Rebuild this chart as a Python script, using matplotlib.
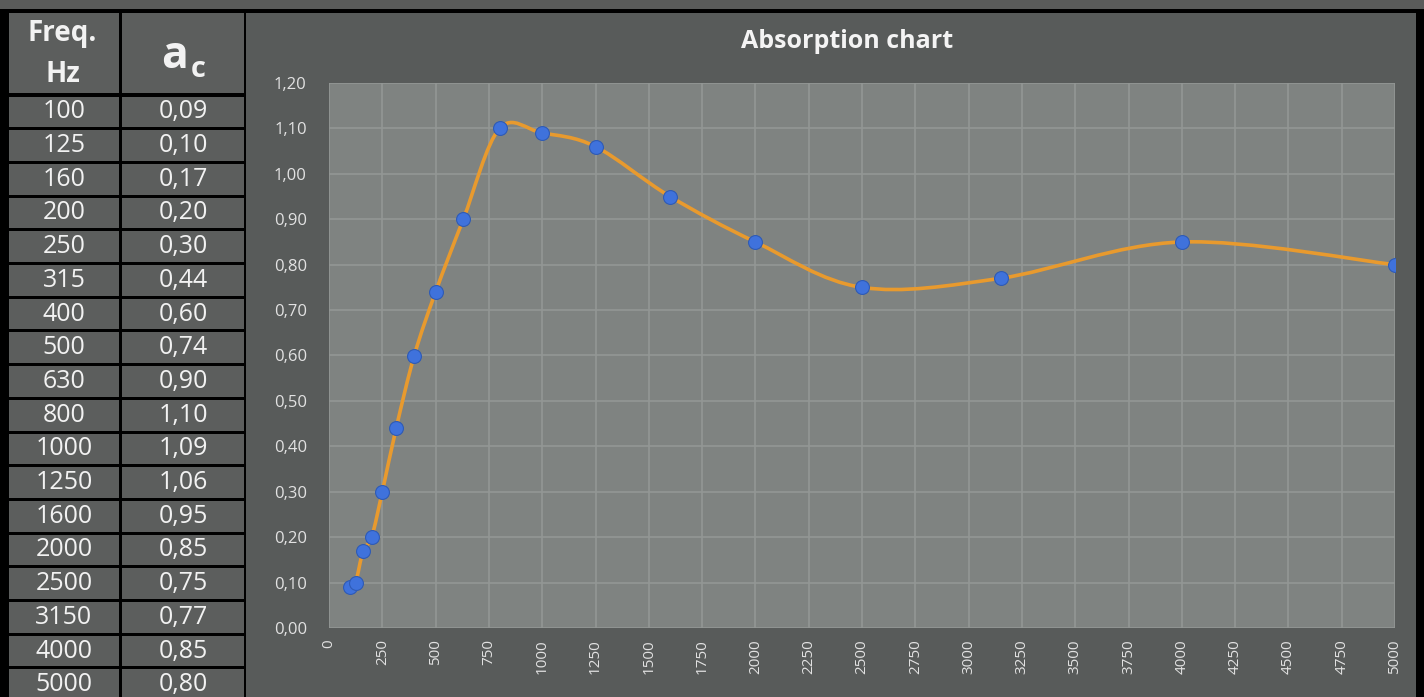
import matplotlib
matplotlib.use('Agg')
import matplotlib.pyplot as plt
import numpy as np
from matplotlib.patches import Rectangle, PathPatch
from matplotlib.path import Path
from matplotlib.ticker import FuncFormatter, MultipleLocator

freqs = [100, 125, 160, 200, 250, 315, 400, 500, 630, 800, 1000, 1250,
         1600, 2000, 2500, 3150, 4000, 5000]
alphas = [0.09, 0.10, 0.17, 0.20, 0.30, 0.44, 0.60, 0.74, 0.90, 1.10, 1.09, 1.06,
          0.95, 0.85, 0.75, 0.77, 0.85, 0.80]
title = 'Absorption chart'

W, H = 1424, 697
plt.rcParams['font.family'] = ['Open Sans', 'DejaVu Sans']


def fx(px):
    return px / W


def fy(py):
    return 1 - py / H


def rect(fig, x0, y0, x1, y1, color):
    fig.patches.append(Rectangle((fx(x0), fy(y1)), fx(x1) - fx(x0), fy(y0) - fy(y1),
                                 transform=fig.transFigure, facecolor=color,
                                 edgecolor='none', zorder=-5))


fig = plt.figure(figsize=(W / 100, H / 100), dpi=100, facecolor='black')

# top strip and chart panel
rect(fig, 0, 0, W, 9, '#5a5b5a')
rect(fig, 246, 13, 1416, H, '#585b5a')

# table
row_h = 33.7
head_bot = 95
cell_bg = '#5c5e5d'
txt = '#f2f2f2'
rect(fig, 9, 13, 119, head_bot - 2, cell_bg)
rect(fig, 122, 13, 244, head_bot - 2, cell_bg)
for i, (f, a) in enumerate(zip(freqs, alphas)):
    top = head_bot + i * row_h + 1.5
    bot = head_bot + (i + 1) * row_h - 1.5
    rect(fig, 9, top, 119, bot, cell_bg)
    rect(fig, 122, top, 244, bot, cell_bg)
    yc = fy(head_bot + (i + 0.5) * row_h)
    fig.text(fx(64), yc, str(f), ha='center', va='center', fontsize=18, color=txt)
    fig.text(fx(183), yc, f'{a:.2f}'.replace('.', ','), ha='center', va='center',
             fontsize=18, color=txt)

fig.text(fx(62), fy(33), 'Freq.', ha='center', va='center', fontsize=20,
         fontweight='bold', color=txt)
fig.text(fx(63), fy(75), 'Hz', ha='center', va='center', fontsize=20,
         fontweight='bold', color=txt)
fig.text(fx(175), fy(68), 'a', ha='center', va='baseline', fontsize=32,
         fontweight='bold', color=txt)
fig.text(fx(198), fy(77), 'c', ha='center', va='baseline', fontsize=21,
         fontweight='bold', color=txt)

fig.text(fx(847), fy(42), title, ha='center', va='center', fontsize=18,
         fontweight='bold', color='#f4f4f4')

# plot area
ax = fig.add_axes([fx(329), fy(628), fx(1395) - fx(329), fy(83) - fy(628)])
ax.set_facecolor('#7f8381')
ax.set_xlim(0, 5000)
ax.set_ylim(0, 1.2)
ax.xaxis.set_major_locator(MultipleLocator(250))
ax.yaxis.set_major_locator(MultipleLocator(0.1))
ax.yaxis.set_major_formatter(FuncFormatter(lambda v, p: f'{v:.2f}'.replace('.', ',')))
ax.xaxis.set_major_formatter(FuncFormatter(lambda v, p: f'{int(round(v))}'))
ax.grid(True, color='#939795', linewidth=1.2)
ax.set_axisbelow(True)
for s in ax.spines.values():
    s.set_visible(False)
ax.tick_params(length=0, colors='#e2e2e2')
ax.tick_params(axis='x', rotation=90, pad=8, labelsize=11)
ax.tick_params(axis='y', pad=16, labelsize=12)

# smoothed line (Bezier through the points, like a spreadsheet smoothed line)
pts = np.column_stack([freqs, alphas]).astype(float)
ext = np.vstack([pts[0], pts, pts[-1]])
verts = [pts[0]]
codes = [Path.MOVETO]
for i in range(len(pts) - 1):
    p0, p1, p2, p3 = ext[i], ext[i + 1], ext[i + 2], ext[i + 3]
    verts += [p1 + (p2 - p0) / 6, p2 - (p3 - p1) / 6, p2]
    codes += [Path.CURVE4] * 3
ax.add_patch(PathPatch(Path(verts, codes), facecolor='none', edgecolor='#e89a2e',
                       linewidth=2.6, zorder=3))
ax.plot(freqs, alphas, linestyle='none', marker='o', markersize=10,
        markerfacecolor='#3f72dc', markeredgecolor='#2f5bb5', markeredgewidth=0.8, zorder=4)

fig.savefig('out.png', dpi=100, facecolor='black')
